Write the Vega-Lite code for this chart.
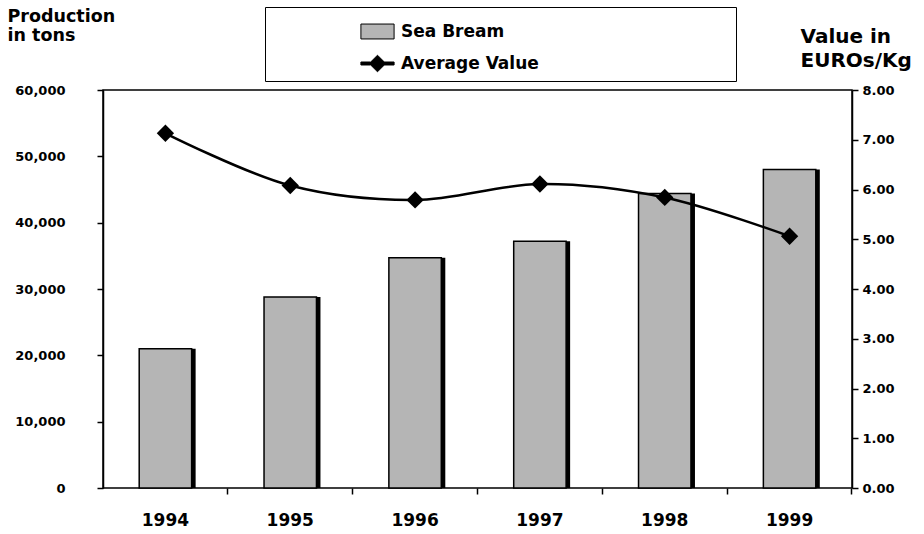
{
  "$schema": "https://vega.github.io/schema/vega-lite/v6.json",
  "width": 749,
  "height": 398,
  "autosize": {"type": "none"},
  "padding": {"left": 103, "top": 90, "right": 72, "bottom": 46},
  "background": "white",
  "config": {
    "font": "DejaVu Sans",
    "view": {"stroke": "black", "strokeWidth": 1.5},
    "axis": {
      "labelFont": "DejaVu Sans",
      "labelFontWeight": "bold",
      "labelColor": "black",
      "domainColor": "black",
      "tickColor": "black",
      "domainWidth": 1.5,
      "tickWidth": 1.5,
      "grid": false,
      "titleFont": "DejaVu Sans",
      "titleFontWeight": "bold",
      "titleColor": "black"
    }
  },
  "data": {
    "values": [
      {"year": "1994", "production": 21000, "value": 7.13},
      {"year": "1995", "production": 28800, "value": 6.08},
      {"year": "1996", "production": 34700, "value": 5.79},
      {"year": "1997", "production": 37200, "value": 6.11},
      {"year": "1998", "production": 44400, "value": 5.84},
      {"year": "1999", "production": 48000, "value": 5.06}
    ]
  },
  "encoding": {
    "x": {
      "field": "year",
      "type": "nominal",
      "scale": {"paddingInner": 0.58, "paddingOuter": 0.29},
      "axis": {
        "title": null,
        "labelAngle": 0,
        "labelFontSize": 17,
        "labelPadding": 18,
        "tickSize": 6,
        "bandPosition": 1.69,
        "domain": false
      }
    }
  },
  "layer": [
    {
      "mark": {"type": "bar", "color": "black", "xOffset": 4},
      "encoding": {
        "y": {"field": "production", "type": "quantitative", "scale": {"domain": [0, 60000]}, "axis": null}
      }
    },
    {
      "mark": {"type": "bar", "stroke": "black", "strokeWidth": 1.5},
      "encoding": {
        "y": {
          "field": "production",
          "type": "quantitative",
          "scale": {"domain": [0, 60000]},
          "axis": {
            "orient": "left",
            "values": [0, 10000, 20000, 30000, 40000, 50000, 60000],
            "format": ",d",
            "labelFontSize": 13,
            "labelPadding": 32,
            "tickSize": 6,
            "title": ["Production", "in tons"],
            "titleFontSize": 17.5,
            "titleLineHeight": 19,
            "titleAngle": 0,
            "titleAlign": "left",
            "titleBaseline": "top",
            "titleX": -96,
            "titleY": -83
          }
        },
        "fill": {
          "datum": "Sea Bream",
          "type": "nominal",
          "scale": {"domain": ["Sea Bream", "Average Value"], "range": ["#b5b5b5", "black"]},
          "legend": {
            "orient": "none",
            "legendX": 162,
            "legendY": -83,
            "title": "\u00a0",
            "titleOrient": "right",
            "titlePadding": 190,
            "titleFontSize": 10,
            "symbolSize": 1100,
            "symbolStrokeColor": "black",
            "symbolStrokeWidth": 1,
            "symbolOffset": 88,
            "labelOffset": 6,
            "labelFont": "DejaVu Sans",
            "labelFontSize": 17,
            "labelFontWeight": "bold",
            "labelColor": "black",
            "rowPadding": 5,
            "padding": 7,
            "strokeColor": "black",
            "fillColor": "white",
            "encode": {
              "symbols": {
                "update": {
                  "shape": {
                    "signal": "datum.value === 'Sea Bream' ? 'M-1,-0.45L1,-0.45L1,0.45L-1,0.45Z' : 'M-1,-0.09L-0.41,-0.09L0,-0.5L0.41,-0.09L1,-0.09L1,0.09L0.41,0.09L0,0.5L-0.41,0.09L-1,0.09Z'"
                  }
                }
              }
            }
          }
        }
      }
    },
    {
      "mark": {"type": "line", "interpolate": "catmull-rom", "color": "black", "strokeWidth": 2.5},
      "encoding": {
        "y": {
          "field": "value",
          "type": "quantitative",
          "scale": {"domain": [0, 8]},
          "axis": {
            "orient": "right",
            "values": [0, 1, 2, 3, 4, 5, 6, 7, 8],
            "format": ".2f",
            "labelFontSize": 13,
            "labelPadding": 4,
            "tickSize": 6,
            "title": ["Value in", "EUROs/Kg"],
            "titleFontSize": 20,
            "titleLineHeight": 24,
            "titleAngle": 0,
            "titleAlign": "left",
            "titleBaseline": "top",
            "titleX": -52,
            "titleY": -64
          }
        }
      }
    },
    {
      "mark": {"type": "point", "shape": "diamond", "filled": true, "color": "black", "size": 300, "opacity": 1},
      "encoding": {
        "y": {"field": "value", "type": "quantitative", "scale": {"domain": [0, 8]}, "axis": null}
      }
    }
  ],
  "resolve": {"scale": {"y": "independent"}}
}
